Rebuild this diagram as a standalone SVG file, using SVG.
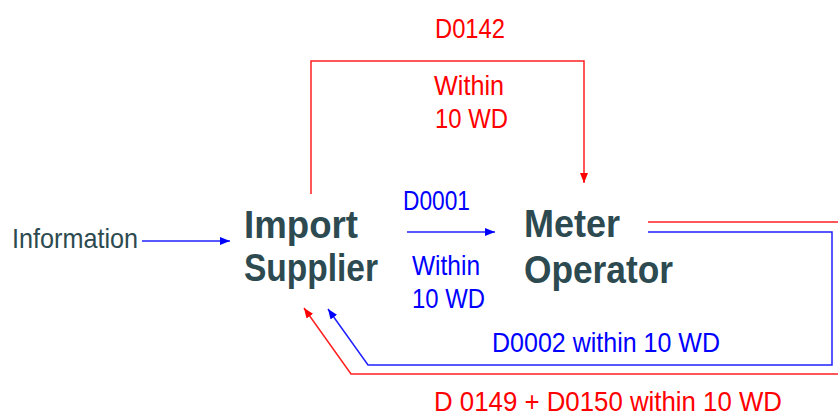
<svg xmlns="http://www.w3.org/2000/svg" width="838" height="418" viewBox="0 0 838 418">
<defs>
<style>
.t{font-family:"Liberation Sans",Arial,sans-serif;font-size:28px}
.node{font-family:"Liberation Sans",Arial,sans-serif;font-size:38px;font-weight:bold;fill:#2c4a50}
.red{fill:#ff0000}
.blue{fill:#0000ff}
.dark{fill:#2c4a50}
.lr{fill:none;stroke:#ff2020;stroke-width:1.5}
.lb{fill:none;stroke:#2020ff;stroke-width:1.5}
</style>
<marker id="ar" markerWidth="11" markerHeight="9" refX="10" refY="4" orient="auto" markerUnits="userSpaceOnUse">
<path d="M0,0 L10,4 L0,8 z" fill="#ff0000"/>
</marker>
<marker id="ab" markerWidth="11" markerHeight="9" refX="10" refY="4" orient="auto" markerUnits="userSpaceOnUse">
<path d="M0,0 L10,4 L0,8 z" fill="#0000ff"/>
</marker>
</defs>
<rect width="838" height="418" fill="#ffffff"/>
<g id="connectors">
<line class="lb" x1="142" y1="241" x2="230" y2="241" marker-end="url(#ab)"/>
<line class="lb" x1="407" y1="232" x2="495" y2="232" marker-end="url(#ab)"/>
<polyline class="lr" points="311,194 311,61 584,61 584,183" marker-end="url(#ar)"/>
<polyline class="lr" points="648,222 842,222 842,374 351,374 304,308" marker-end="url(#ar)"/>
<polyline class="lb" points="648,232 832,232 832,365 368,365 328,309" marker-end="url(#ab)"/>
</g>
<g id="labels">
<text class="t dark" x="12" y="248" textLength="126" lengthAdjust="spacingAndGlyphs">Information</text>
<text class="t red" x="435" y="38" textLength="70" lengthAdjust="spacingAndGlyphs">D0142</text>
<text class="t red" x="434" y="95" textLength="70" lengthAdjust="spacingAndGlyphs">Within</text>
<text class="t red" x="435" y="128" textLength="73" lengthAdjust="spacingAndGlyphs">10 WD</text>
<text class="t blue" x="403" y="210" textLength="67" lengthAdjust="spacingAndGlyphs">D0001</text>
<text class="t blue" x="412" y="275" textLength="68" lengthAdjust="spacingAndGlyphs">Within</text>
<text class="t blue" x="412" y="308" textLength="73" lengthAdjust="spacingAndGlyphs">10 WD</text>
<text class="t blue" x="492" y="352" textLength="228" lengthAdjust="spacingAndGlyphs">D0002 within 10 WD</text>
<text class="t red" x="434" y="411" textLength="348" lengthAdjust="spacingAndGlyphs">D 0149 + D0150 within 10 WD</text>
</g>
<g id="import-supplier">
<text class="node" x="244" y="238" textLength="114" lengthAdjust="spacingAndGlyphs">Import</text>
<text class="node" x="244" y="281" textLength="134" lengthAdjust="spacingAndGlyphs">Supplier</text>
</g>
<g id="meter-operator">
<text class="node" x="524" y="237" textLength="96" lengthAdjust="spacingAndGlyphs">Meter</text>
<text class="node" x="524" y="283" textLength="149" lengthAdjust="spacingAndGlyphs">Operator</text>
</g>
</svg>
